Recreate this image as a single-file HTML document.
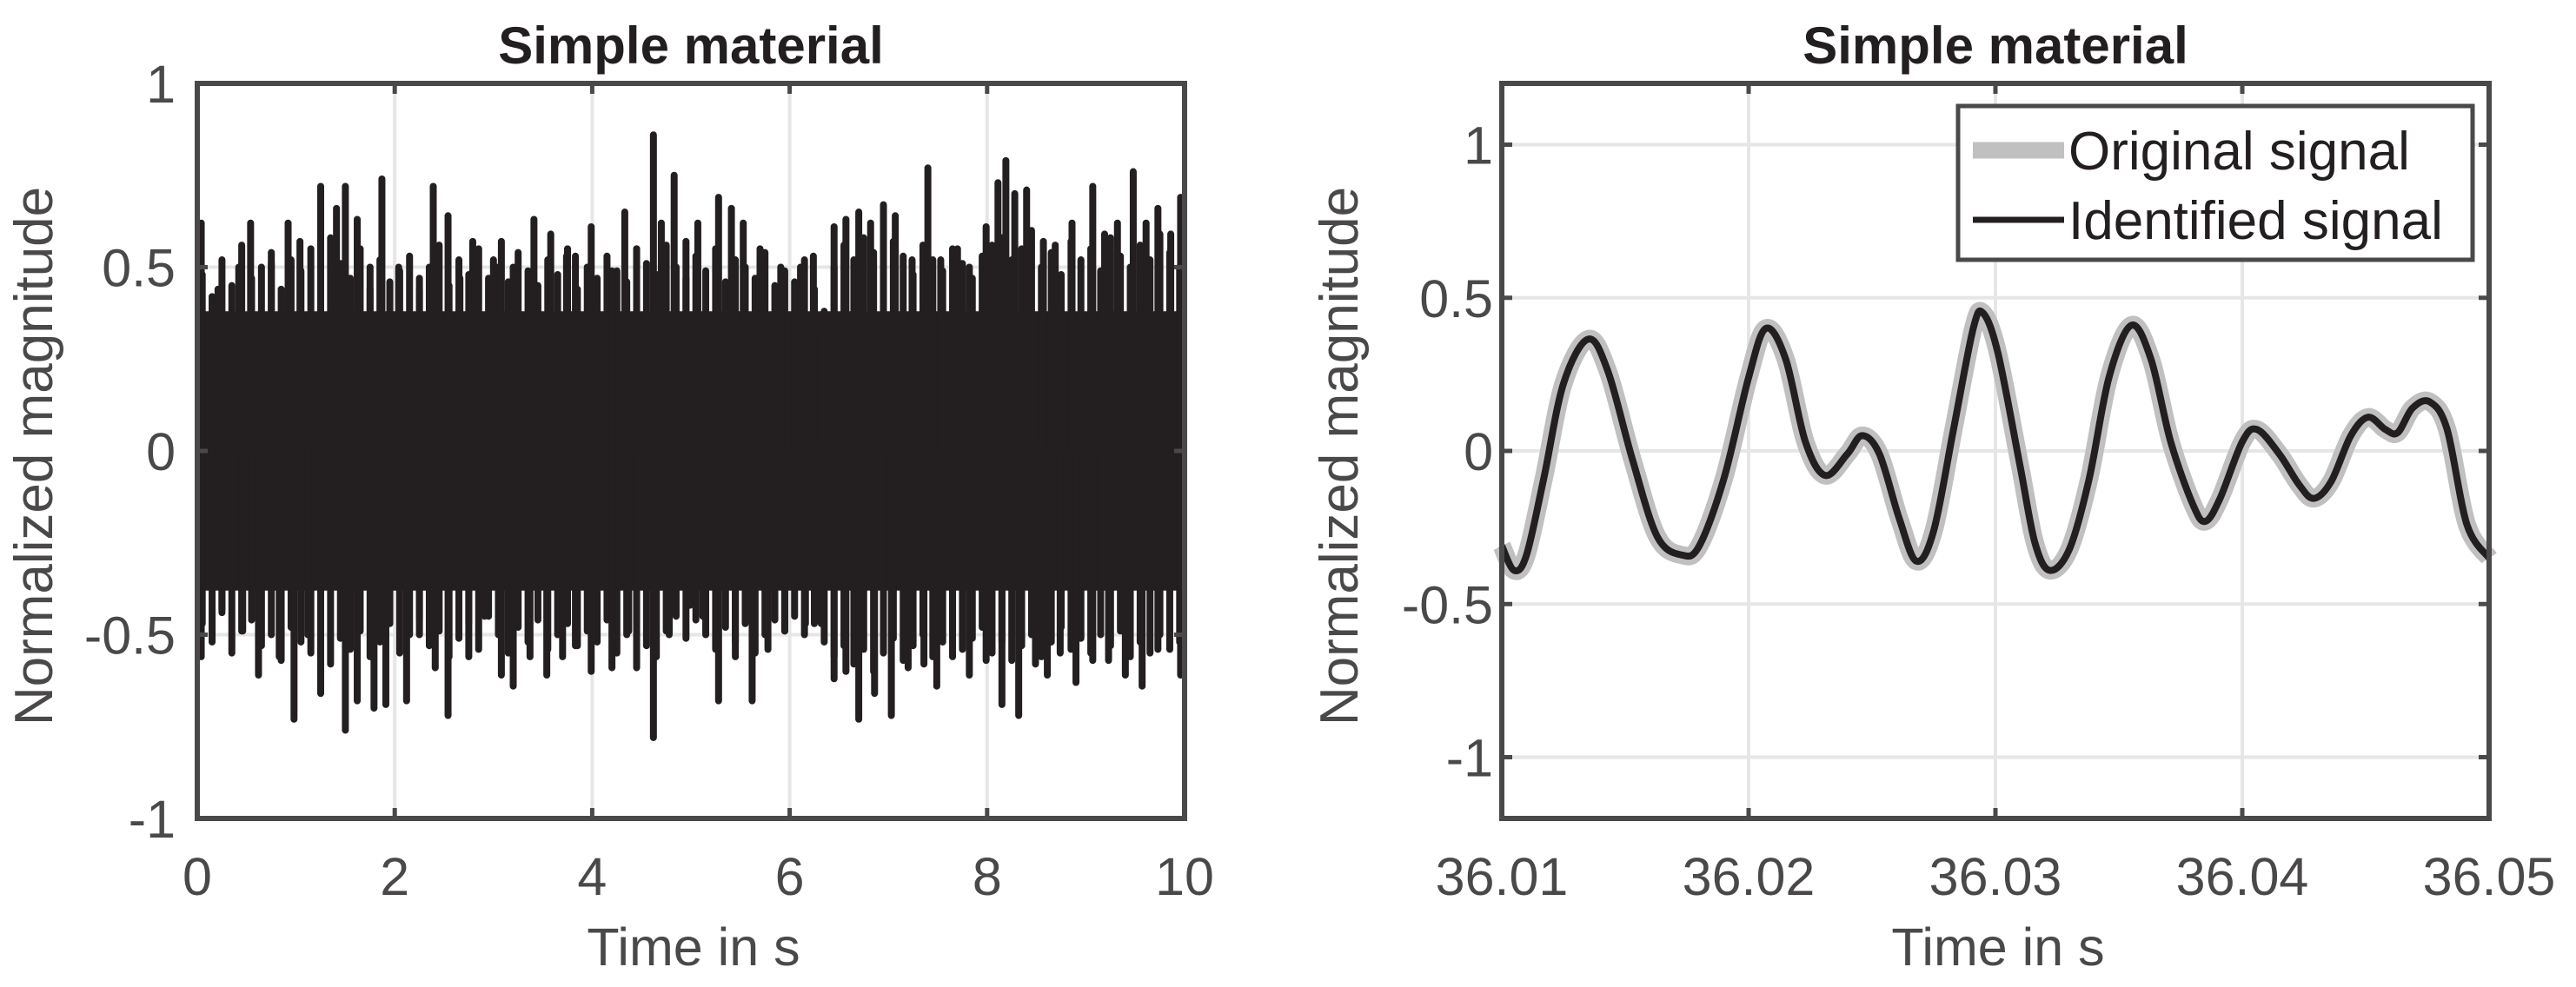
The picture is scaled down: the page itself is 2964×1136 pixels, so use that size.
<!DOCTYPE html>
<html><head><meta charset="utf-8"><style>
html,body{margin:0;padding:0;background:#fff;}
svg{display:block;}
text{font-family:"Liberation Sans",Arial,sans-serif;fill:#4a4848;}
</style></head><body>
<svg id="fig" width="2964" height="1136" viewBox="0 0 2964 1136" xmlns="http://www.w3.org/2000/svg">
<g id="left"></g>
<g id="right"></g>
</svg>
<script>
// Left panel data (peaks)
const leftXTicks=[0,2,4,6,8,10];
const leftXTickLabels=["0","2","4","6","8","10"];
const leftYTicks=[-1,-0.5,0,0.5,1];
const leftYTickLabels=["-1","-0.5","0","0.5","1"];
const upperT=[0.04,0.21,0.42,0.54,0.75,0.92,1.04,1.25,1.41,1.50,1.62,1.75,1.87,2.04,2.25,2.39,2.54,2.66,2.79,3.00,3.08,3.20,3.41,3.58,3.74,3.83,3.99,4.20,4.33,4.45,4.62,4.70,4.83,4.95,5.07,5.28,5.41,5.53,5.70,5.91,6.11,6.24,6.32,6.45,6.57,6.70,6.82,6.95,7.07,7.24,7.40,7.53,7.70,7.82,7.99,8.11,8.19,8.28,8.40,8.57,8.69,8.86,9.07,9.19,9.32,9.48,9.61,9.73,9.86,9.96];
const upperV=[0.62,0.44,0.50,0.62,0.51,0.62,0.57,0.72,0.66,0.72,0.63,0.50,0.74,0.50,0.47,0.72,0.64,0.47,0.57,0.52,0.57,0.50,0.63,0.59,0.53,0.53,0.61,0.49,0.65,0.55,0.86,0.62,0.75,0.57,0.62,0.69,0.66,0.62,0.55,0.50,0.50,0.53,0.33,0.61,0.63,0.65,0.62,0.67,0.64,0.52,0.77,0.52,0.55,0.50,0.61,0.73,0.79,0.70,0.71,0.57,0.56,0.62,0.72,0.59,0.62,0.76,0.62,0.66,0.59,0.69];
const lowerT=[0.04,0.25,0.46,0.62,0.83,0.98,1.12,1.25,1.50,1.62,1.79,1.91,2.12,2.25,2.41,2.54,2.75,2.91,3.08,3.20,3.37,3.54,3.70,3.83,3.99,4.20,4.37,4.45,4.62,4.78,4.99,5.12,5.28,5.45,5.62,5.78,5.95,6.16,6.32,6.45,6.57,6.70,6.86,7.03,7.20,7.36,7.49,7.65,7.82,7.99,8.15,8.32,8.49,8.61,8.74,8.90,9.07,9.23,9.40,9.57,9.73,9.96];
const lowerV=[-0.56,-0.43,-0.49,-0.61,-0.56,-0.73,-0.50,-0.66,-0.76,-0.68,-0.70,-0.69,-0.68,-0.50,-0.59,-0.72,-0.56,-0.45,-0.61,-0.64,-0.56,-0.61,-0.56,-0.53,-0.60,-0.59,-0.49,-0.59,-0.78,-0.50,-0.42,-0.45,-0.68,-0.56,-0.68,-0.54,-0.49,-0.47,-0.47,-0.62,-0.60,-0.73,-0.66,-0.72,-0.59,-0.58,-0.64,-0.56,-0.61,-0.57,-0.69,-0.72,-0.58,-0.61,-0.55,-0.63,-0.57,-0.57,-0.61,-0.64,-0.54,-0.61];
// secondary (smaller) spikes, every 0.1 s from 0.05 to 9.95
const secT=[0.05,0.15,0.25,0.35,0.45,0.55,0.65,0.75,0.85,0.95,1.05,1.15,1.25,1.35,1.45,1.55,1.65,1.75,1.85,1.95,2.05,2.15,2.25,2.35,2.45,2.55,2.65,2.75,2.85,2.95,3.05,3.15,3.25,3.35,3.45,3.55,3.65,3.75,3.85,3.95,4.05,4.15,4.25,4.35,4.45,4.55,4.65,4.75,4.85,4.95,5.05,5.15,5.25,5.35,5.45,5.55,5.65,5.75,5.85,5.95,6.05,6.15,6.25,6.35,6.45,6.55,6.65,6.75,6.85,6.95,7.05,7.15,7.25,7.35,7.45,7.55,7.65,7.75,7.85,7.95,8.05,8.15,8.25,8.35,8.45,8.55,8.65,8.75,8.85,8.95,9.05,9.15,9.25,9.35,9.45,9.55,9.65,9.75,9.85,9.95];
const secUpV=[0.48,0.42,0.52,0.45,0.56,0.47,0.50,0.54,0.44,0.52,0.49,0.55,0.46,0.58,0.51,0.47,0.55,0.44,0.52,0.46,0.49,0.53,0.44,0.50,0.56,0.45,0.52,0.48,0.55,0.47,0.50,0.46,0.54,0.49,0.45,0.52,0.48,0.55,0.44,0.50,0.47,0.53,0.49,0.46,0.55,0.51,0.48,0.56,0.50,0.47,0.53,0.49,0.55,0.46,0.52,0.50,0.47,0.54,0.45,0.49,0.46,0.52,0.44,0.38,0.50,0.56,0.52,0.58,0.54,0.50,0.57,0.53,0.48,0.56,0.52,0.49,0.55,0.51,0.47,0.53,0.56,0.58,0.52,0.55,0.60,0.50,0.54,0.48,0.57,0.52,0.55,0.49,0.58,0.53,0.50,0.56,0.52,0.59,0.54,0.50];
const secLoV=[-0.47,-0.52,-0.44,-0.55,-0.49,-0.46,-0.53,-0.50,-0.57,-0.48,-0.52,-0.55,-0.47,-0.58,-0.51,-0.54,-0.49,-0.56,-0.52,-0.47,-0.55,-0.50,-0.46,-0.53,-0.49,-0.56,-0.51,-0.47,-0.54,-0.45,-0.50,-0.55,-0.48,-0.52,-0.46,-0.54,-0.50,-0.47,-0.53,-0.49,-0.52,-0.46,-0.55,-0.50,-0.47,-0.53,-0.56,-0.49,-0.45,-0.51,-0.46,-0.50,-0.54,-0.48,-0.52,-0.47,-0.55,-0.50,-0.46,-0.49,-0.45,-0.50,-0.47,-0.52,-0.56,-0.53,-0.58,-0.54,-0.60,-0.55,-0.51,-0.57,-0.53,-0.50,-0.56,-0.52,-0.49,-0.54,-0.51,-0.48,-0.55,-0.52,-0.57,-0.53,-0.50,-0.56,-0.52,-0.48,-0.54,-0.51,-0.55,-0.50,-0.53,-0.49,-0.56,-0.52,-0.55,-0.50,-0.54,-0.52];
const coreTop=0.38, coreBottom=-0.38;
// Right panel data
const rightXTicks=[36.01,36.02,36.03,36.04,36.05];
const rightXTickLabels=["36.01","36.02","36.03","36.04","36.05"];
const rightYTicks=[-1,-0.5,0,0.5,1];
const rightYTickLabels=["-1","-0.5","0","0.5","1"];
const sigT=[36.0100,36.0105,36.0110,36.0117,36.0125,36.0135,36.0143,36.0153,36.0163,36.0173,36.0180,36.0190,36.0200,36.0207,36.0215,36.0223,36.0231,36.0240,36.0246,36.0253,36.0261,36.0268,36.0275,36.0283,36.0291,36.0295,36.0301,36.0310,36.0316,36.0322,36.0330,36.0338,36.0346,36.0355,36.0363,36.0371,36.0380,36.0385,36.0391,36.0400,36.0406,36.0415,36.0423,36.0429,36.0436,36.0444,36.0451,36.0458,36.0463,36.0469,36.0476,36.0483,36.0491,36.0500];
const sigV=[-0.31,-0.39,-0.34,-0.09,0.22,0.365,0.26,-0.03,-0.28,-0.34,-0.31,-0.09,0.24,0.40,0.30,0.03,-0.08,-0.01,0.05,-0.01,-0.22,-0.36,-0.26,0.07,0.40,0.45,0.32,-0.05,-0.30,-0.39,-0.32,-0.09,0.24,0.41,0.30,0.03,-0.175,-0.23,-0.155,0.03,0.07,-0.01,-0.11,-0.155,-0.10,0.05,0.11,0.07,0.06,0.14,0.16,0.07,-0.24,-0.35];

const NS="http://www.w3.org/2000/svg";
function mk(parent,tag,attrs,txt){const e=document.createElementNS(NS,tag);for(const k in attrs)e.setAttribute(k,attrs[k]);if(txt!==undefined)e.textContent=txt;parent.appendChild(e);return e;}

function panel(g,cfg){
  const L=cfg.L,R=cfg.R,T=96,B=942;
  const sx=v=>L+(v-cfg.x0)/(cfg.x1-cfg.x0)*(R-L);
  const sy=v=>B-(v-cfg.y0)/(cfg.y1-cfg.y0)*(B-T);
  const grid=mk(g,'g',{});
  
  
  cfg.xt.forEach(v=>{if(v>cfg.x0&&v<cfg.x1)mk(grid,'line',{x1:sx(v),x2:sx(v),y1:T,y2:B,stroke:'#e6e6e6','stroke-width':4});});
  cfg.yt.forEach(v=>{if(v>cfg.y0&&v<cfg.y1)mk(grid,'line',{x1:L,x2:R,y1:sy(v),y2:sy(v),stroke:'#e6e6e6','stroke-width':4});});
  cfg.draw(g,sx,sy);
  const tk=mk(g,'g',{stroke:'#4a4848','stroke-width':5});
  
  
  cfg.xt.forEach(v=>{mk(tk,'line',{x1:sx(v),x2:sx(v),y1:B,y2:B-12});mk(tk,'line',{x1:sx(v),x2:sx(v),y1:T,y2:T+12});});
  cfg.yt.forEach(v=>{mk(tk,'line',{x1:L,x2:L+12,y1:sy(v),y2:sy(v)});mk(tk,'line',{x1:R,x2:R-12,y1:sy(v),y2:sy(v)});});
  const box=mk(g,'rect',{x:L,y:T,width:R-L,height:B-T,fill:'none',stroke:'#4a4848','stroke-width':6});
  
  
  cfg.xt.forEach((v,i)=>{const t=mk(g,'text',{x:sx(v),y:1030,'font-size':61,'text-anchor':'middle'},cfg.xl[i]);
    
    });
  cfg.yt.forEach((v,i)=>{const t=mk(g,'text',{x:cfg.ylx,y:sy(v)+22,'font-size':61,'text-anchor':'end'},cfg.yl[i]);
    
    });
  const ti=mk(g,'text',{x:(L+R)/2,y:73,'font-size':60,'font-weight':'bold','text-anchor':'middle',style:'fill:#231f20'},'Simple material');
  
  
  const xl=mk(g,'text',{x:(L+R)/2+3,y:1111,'font-size':61,'text-anchor':'middle'},'Time in s');
  
  
  const cy=(T+B)/2+6;
  const yl=mk(g,'text',{x:cfg.ytx,y:cy,'font-size':62,'text-anchor':'middle',transform:`rotate(-90 ${cfg.ytx} ${cy})`},'Normalized magnitude');
  
  
}

function smooth(pts){
  let d=`M${pts[0][0]},${pts[0][1]}`;
  for(let i=0;i<pts.length-1;i++){
    const p0=pts[Math.max(0,i-1)],p1=pts[i],p2=pts[i+1],p3=pts[Math.min(pts.length-1,i+2)];
    const c1=[p1[0]+(p2[0]-p0[0])/6,p1[1]+(p2[1]-p0[1])/6];
    const c2=[p2[0]-(p3[0]-p1[0])/6,p2[1]-(p3[1]-p1[1])/6];
    d+=`C${c1[0]},${c1[1]} ${c2[0]},${c2[1]} ${p2[0]},${p2[1]}`;
  }
  return d;
}

panel(document.getElementById('left'),{L:227,R:1363,x0:0,x1:10,y0:-1,y1:1,xt:leftXTicks,xl:leftXTickLabels,yt:leftYTicks,yl:leftYTickLabels,ylx:202,ytx:60,
  draw:(g,sx,sy)=>{
    const s=mk(g,'g',{fill:'#231f20',stroke:'#231f20','stroke-linecap':'round'});
    
    
    const core=mk(s,'rect',{x:sx(0),y:sy(coreTop),width:sx(10)-sx(0),height:sy(coreBottom)-sy(coreTop),stroke:'none'});
    
    
    secT.forEach((t,i)=>{
      const a=mk(s,'line',{x1:sx(t),x2:sx(t),y1:sy(0),y2:sy(secUpV[i]),'stroke-width':8});
      
      
      const b=mk(s,'line',{x1:sx(t),x2:sx(t),y1:sy(0),y2:sy(secLoV[i]),'stroke-width':8});
      
      });
    upperT.forEach((t,i)=>{const l=mk(s,'line',{x1:sx(t),x2:sx(t),y1:sy(0),y2:sy(upperV[i]),'stroke-width':8});
      
      });
    lowerT.forEach((t,i)=>{const l=mk(s,'line',{x1:sx(t),x2:sx(t),y1:sy(0),y2:sy(lowerV[i]),'stroke-width':8});
      
      });
  }});

panel(document.getElementById('right'),{L:1728,R:2864,x0:36.01,x1:36.05,y0:-1.2,y1:1.2,xt:rightXTicks,xl:rightXTickLabels,yt:rightYTicks,yl:rightYTickLabels,ylx:1718,ytx:1562,
  draw:(g,sx,sy)=>{
    const pts=sigT.map((t,i)=>[sx(t),sy(sigV[i])]);
    const d=smooth(pts);
    const o=mk(g,'path',{d:d,fill:'none',stroke:'#c0c0c0','stroke-width':21,'stroke-linejoin':'round'});
    
    
    const id=mk(g,'path',{d:d,fill:'none',stroke:'#231f20','stroke-width':8,'stroke-linejoin':'round'});
    
    
    const lg=mk(g,'g',{});
    
    
    mk(lg,'rect',{x:2253,y:122,width:592,height:177,fill:'#fff',stroke:'#4a4848','stroke-width':5});
    const e1=mk(lg,'g',{});
    
    
    mk(e1,'line',{x1:2270,x2:2375,y1:173,y2:173,stroke:'#c0c0c0','stroke-width':19});
    mk(e1,'text',{x:2380,y:195,'font-size':62,style:'fill:#231f20'},'Original signal');
    const e2=mk(lg,'g',{});
    
    
    mk(e2,'line',{x1:2270,x2:2375,y1:253,y2:253,stroke:'#231f20','stroke-width':7});
    mk(e2,'text',{x:2380,y:275,'font-size':62,style:'fill:#231f20'},'Identified signal');
  }});
</script>
</body></html>
